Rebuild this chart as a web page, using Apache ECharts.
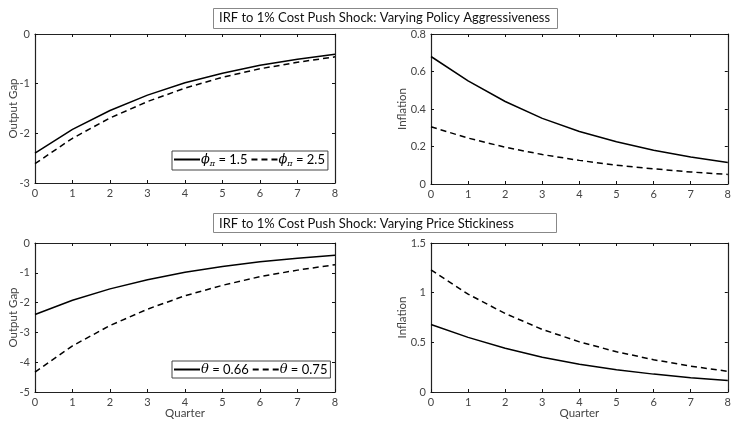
<!DOCTYPE html>
<html><head><meta charset="utf-8">
<script src="https://cdn.jsdelivr.net/npm/echarts@6/dist/echarts.min.js"></script>
<style>html,body{margin:0;padding:0;background:#fff}#c{width:734px;height:424px}</style>
</head><body><div id="c"></div>
<script>
// ---- data ----
const quarters = [0,1,2,3,4,5,6,7,8];
// Top: varying policy aggressiveness
const gapPhi15 = [-2.40,-1.92,-1.54,-1.23,-0.98,-0.79,-0.63,-0.51,-0.41];
const gapPhi25 = [-2.61,-2.10,-1.69,-1.36,-1.09,-0.87,-0.70,-0.57,-0.46];
const infPhi15 = [0.68,0.55,0.44,0.35,0.28,0.225,0.18,0.144,0.115];
const infPhi25 = [0.305,0.245,0.196,0.157,0.126,0.100,0.081,0.064,0.051];
// Bottom: varying price stickiness
const gapTh066 = [-2.40,-1.92,-1.54,-1.23,-0.98,-0.79,-0.63,-0.51,-0.41];
const gapTh075 = [-4.33,-3.45,-2.77,-2.22,-1.77,-1.42,-1.13,-0.91,-0.73];
const infTh066 = [0.68,0.55,0.44,0.35,0.28,0.225,0.18,0.144,0.115];
const infTh075 = [1.23,0.985,0.79,0.63,0.505,0.405,0.325,0.26,0.208];
const titles = ['IRF to 1% Cost Push Shock: Varying Policy Aggressiveness','IRF to 1% Cost Push Shock: Varying Price Stickiness'];
const yRanges = [[-3,0,1],[0,0.8,0.2],[-5,0,1],[0,1.5,0.5]];
const yNames = ['Output Gap','Inflation','Output Gap','Inflation'];

const FONT = 'Lato';
const pairs = a => quarters.map((q,i)=>[q,a[i]]);
const grids = [
  {left:35, top:34, width:300, height:149},
  {left:431, top:34, width:299, height:150},
  {left:35, top:243, width:300, height:149},
  {left:431, top:243, width:299, height:149}
];
const xAxis=[], yAxis=[];
grids.forEach((g,i)=>{
  const lbl={color:'#444',fontSize:11,fontFamily:FONT,margin:5};
  const tick={show:true,inside:true,length:3,lineStyle:{color:'#111',width:1}};
  const line={show:true,onZero:false,lineStyle:{color:'#222',width:1.2}};
  const bottom = i>=2;
  xAxis.push({type:'value',gridIndex:i,min:0,max:8,interval:1,position:'bottom',
    axisLine:line,axisTick:tick,splitLine:{show:false},axisLabel:lbl,
    name: bottom?'Quarter':'', nameLocation:'middle', nameGap:15, nameMoveOverlap:false,
    nameTextStyle:{color:'#444',fontSize:11.5,fontFamily:FONT,verticalAlign:'top'}});
  xAxis.push({type:'value',gridIndex:i,min:0,max:8,interval:1,position:'top',
    axisLine:line,axisTick:tick,splitLine:{show:false},axisLabel:{show:false}});
  const r=yRanges[i];
  yAxis.push({type:'value',gridIndex:i,min:r[0],max:r[1],interval:r[2],position:'left',
    axisLine:line,axisTick:tick,splitLine:{show:false},axisLabel:lbl,
    name:yNames[i],nameLocation:'middle',nameGap: i%2? 23:16, nameMoveOverlap:false,
    nameTextStyle:{color:'#444',fontSize:11.5,fontFamily:FONT}});
  yAxis.push({type:'value',gridIndex:i,min:r[0],max:r[1],interval:r[2],position:'right',
    axisLine:line,axisTick:tick,splitLine:{show:false},axisLabel:{show:false}});
});
const solid={color:'#000',width:1.5,type:'solid'};
const dashed={color:'#000',width:1.5,type:[6,4]};
const mk=(name,gi,data,ls)=>({type:'line',name,xAxisIndex:gi*2,yAxisIndex:gi*2,data:pairs(data),
  showSymbol:false,symbol:'none',lineStyle:ls,itemStyle:{color:'#000'},animation:false,silent:true,z:1});
const series=[
  mk('phi15',0,gapPhi15,solid), mk('phi25',0,gapPhi25,dashed),
  mk('phi15',1,infPhi15,solid), mk('phi25',1,infPhi25,dashed),
  mk('th066',2,gapTh066,solid), mk('th075',2,gapTh075,dashed),
  mk('th066',3,infTh066,solid), mk('th075',3,infTh075,dashed)
];
const legendText = {
  phi15:'{g|ϕ}{s|π}{n| = 1.5}', phi25:'{g|ϕ}{s|π}{n| = 2.5}',
  th066:'{g|θ}{n| = 0.66}', th075:'{g|θ}{n| = 0.75}'
};
const rich={
  g:{fontFamily:'DejaVu Serif',fontStyle:'italic',fontSize:13,color:'#000'},
  s:{fontFamily:'DejaVu Serif',fontStyle:'italic',fontSize:8,color:'#000',padding:[9,0,0,0]},
  n:{fontFamily:FONT,fontSize:13,color:'#000'}
};
const mkLegend=(top,data)=>({show:true,left:172,top,data,orient:'horizontal',
  itemWidth:26,itemHeight:12,itemGap:3,padding:[2,3,2,1],
  itemStyle:{opacity:0},
  borderColor:'#444',borderWidth:1,backgroundColor:'#fff',selectedMode:false,
  formatter:n=>legendText[n],textStyle:{rich,padding:[0,0,0,-4]}});
const option={
  animation:false,
  backgroundColor:'#fff',
  title: titles.map((t,i)=>({text:t,left:213,top:i?215:9,padding:[2,6],
    textStyle:{fontFamily:FONT,fontSize:13,fontWeight:'normal',color:'#111'}})),
  graphic:[
    {type:'rect',shape:{x:213.5,y:8.5,width:344,height:20},style:{fill:'none',stroke:'#888',lineWidth:1},z:100},
    {type:'rect',shape:{x:213.5,y:213.5,width:343,height:19},style:{fill:'none',stroke:'#888',lineWidth:1},z:100}
  ],
  legend:[mkLegend(151,['phi15','phi25']), mkLegend(361,['th066','th075'])],
  grid: grids,
  xAxis, yAxis, series
};
echarts.init(document.getElementById('c'),null,{renderer:'canvas'}).setOption(option);
</script></body></html>
